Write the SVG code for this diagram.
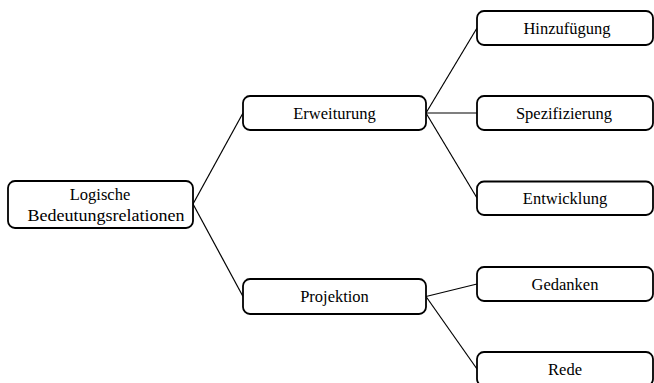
<svg xmlns="http://www.w3.org/2000/svg" width="654" height="383" viewBox="0 0 654 383">
<style>
.box{fill:#fff;stroke:#000;stroke-width:1.8}
.lbl{font-family:"Liberation Serif","Times New Roman",serif;font-size:16.5px;fill:#000;text-anchor:middle}
.conn line{stroke:#000;stroke-width:1.2}
</style>
<rect width="654" height="383" fill="#fff"/>
<g id="connectors" class="conn">
<line x1="193" y1="204" x2="243" y2="113"/>
<line x1="193" y1="204" x2="243" y2="296.5"/>
<line x1="426" y1="113" x2="477" y2="28"/>
<line x1="426" y1="113" x2="477" y2="113"/>
<line x1="426" y1="113" x2="477" y2="198"/>
<line x1="426" y1="296.5" x2="477" y2="284"/>
<line x1="426" y1="296.5" x2="477" y2="369"/>
</g>
<g id="root">
<rect class="box" x="8" y="181" width="185" height="47" rx="7"/>
<text class="lbl" x="100" y="199.5">Logische</text>
<text class="lbl" x="106" y="220.5" textLength="157" lengthAdjust="spacingAndGlyphs">Bedeutungsrelationen</text>
</g>
<g id="erweiterung">
<rect class="box" x="243" y="96" width="183" height="34" rx="7"/>
<text class="lbl" x="334.5" y="118.5">Erweiturung</text>
</g>
<g id="projektion">
<rect class="box" x="243" y="279" width="183" height="35" rx="7"/>
<text class="lbl" x="334.5" y="302">Projektion</text>
</g>
<g id="hinzufuegung">
<rect class="box" x="477" y="11" width="176" height="34" rx="7"/>
<text class="lbl" x="567" y="33.5">Hinzufügung</text>
</g>
<g id="spezifizierung">
<rect class="box" x="477" y="96" width="176" height="34" rx="7"/>
<text class="lbl" x="564" y="118.5">Spezifizierung</text>
</g>
<g id="entwicklung">
<rect class="box" x="477" y="181.5" width="176" height="33.5" rx="7"/>
<text class="lbl" x="565" y="203.5">Entwicklung</text>
</g>
<g id="gedanken">
<rect class="box" x="477" y="267" width="176" height="34" rx="7"/>
<text class="lbl" x="565" y="289.5">Gedanken</text>
</g>
<g id="rede">
<rect class="box" x="477" y="352" width="176" height="34" rx="7"/>
<text class="lbl" x="565" y="374.5">Rede</text>
</g>
</svg>
